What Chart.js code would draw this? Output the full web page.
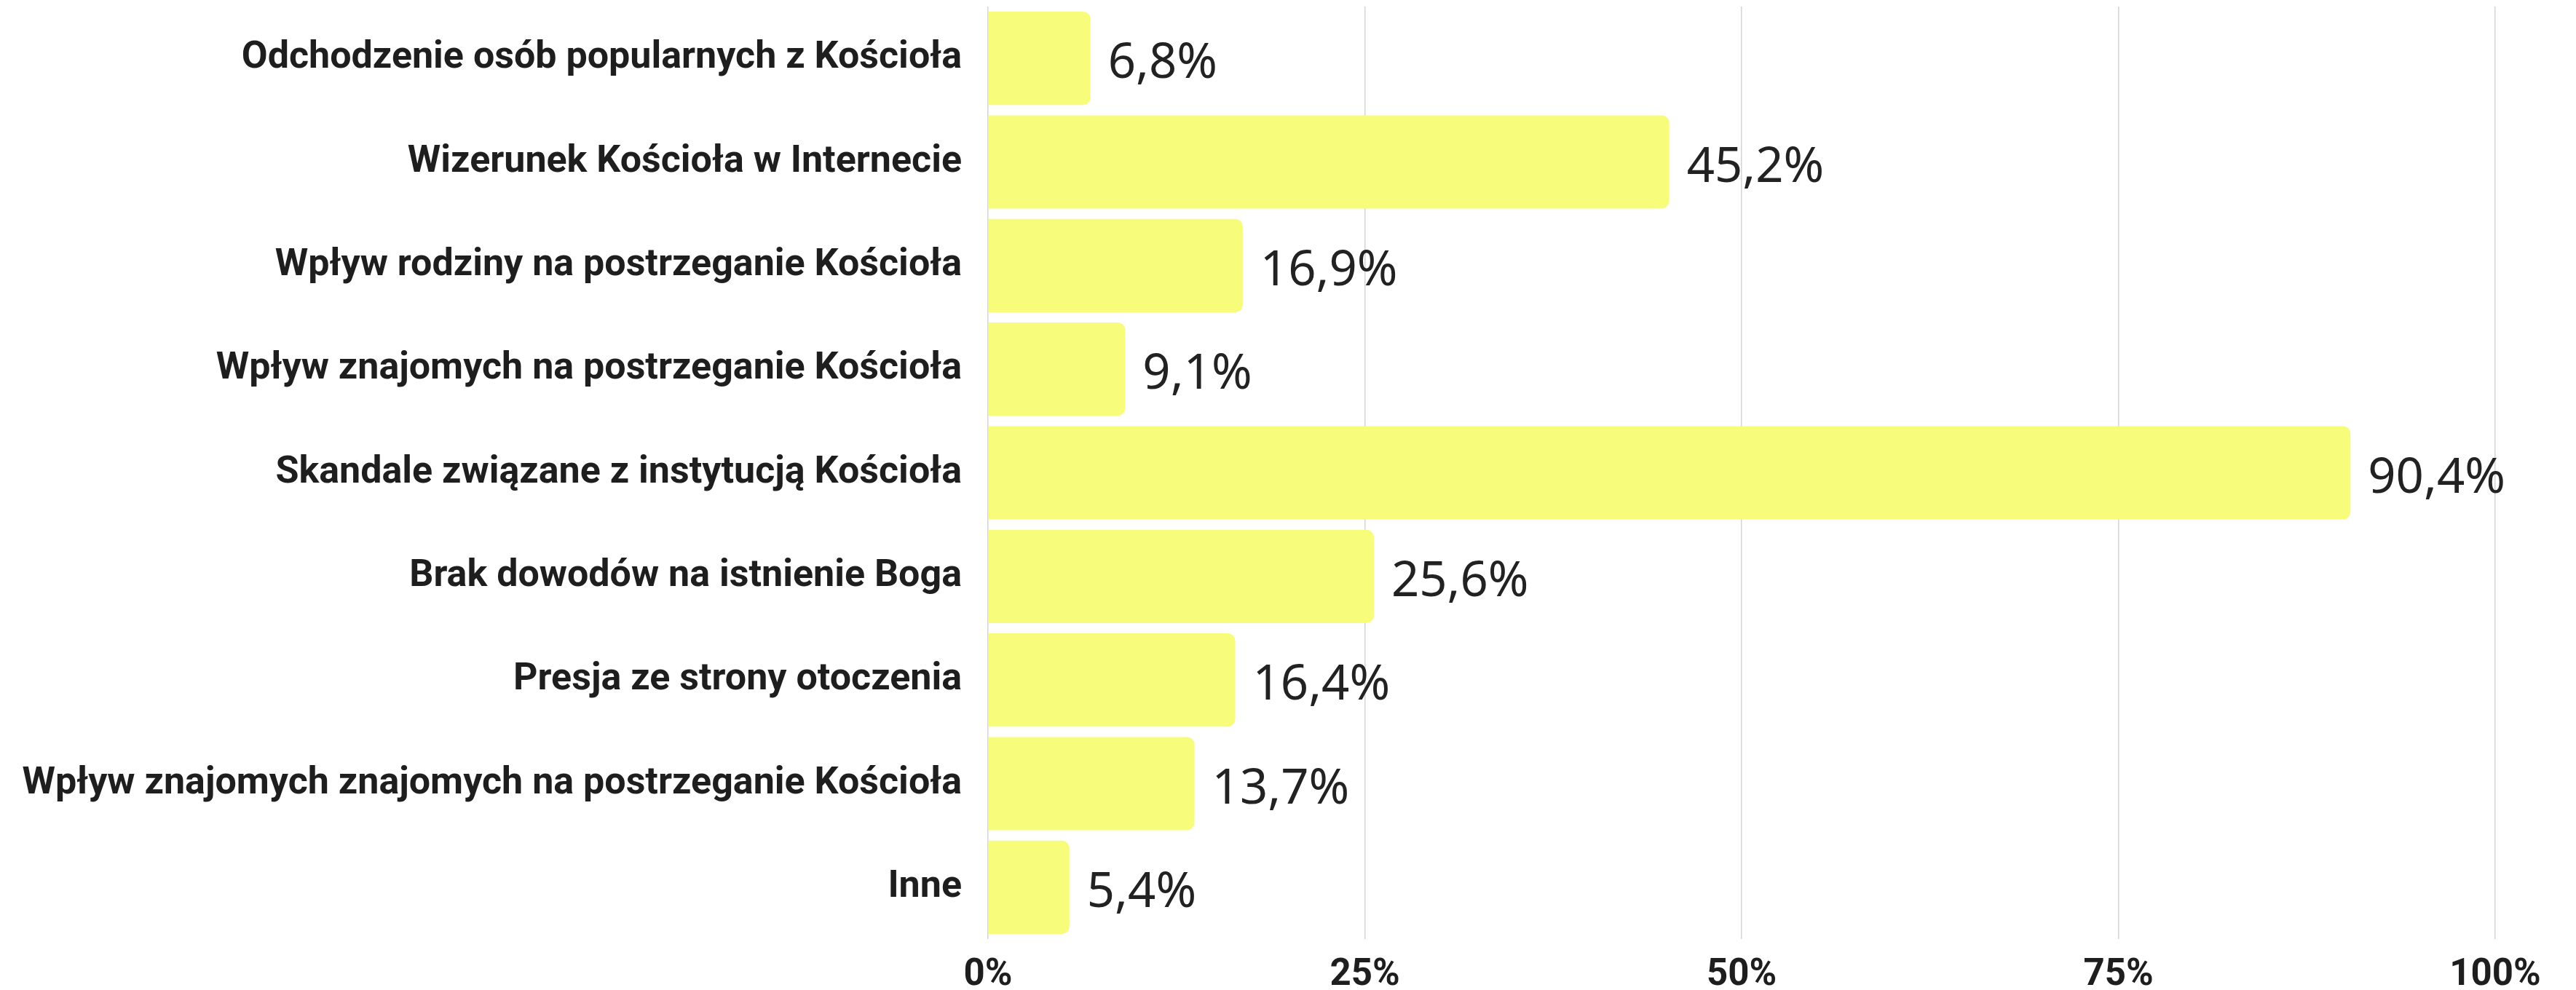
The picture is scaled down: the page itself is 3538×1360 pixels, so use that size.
<!DOCTYPE html>
<html>
<head>
<meta charset="utf-8">
<script src="https://cdn.jsdelivr.net/npm/chart.js@4"></script>
<style>
  html, body { margin: 0; padding: 0; background: #fff; }
  #wrap { width: 3538px; height: 1360px; }
</style>
</head>
<body>
<div id="wrap"><canvas id="chart" width="3538" height="1360"></canvas></div>
<script>
const categories = [
  'Odchodzenie osób popularnych z Kościoła',
  'Wizerunek Kościoła w Internecie',
  'Wpływ rodziny na postrzeganie Kościoła',
  'Wpływ znajomych na postrzeganie Kościoła',
  'Skandale związane z instytucją Kościoła',
  'Brak dowodów na istnienie Boga',
  'Presja ze strony otoczenia',
  'Wpływ znajomych znajomych na postrzeganie Kościoła',
  'Inne'
]
const values = [6.8, 45.2, 16.9, 9.1, 90.4, 25.6, 16.4, 13.7, 5.4]
const xTicks = [0, 25, 50, 75, 100]

const labelFont = "Roboto, 'DejaVu Sans', sans-serif"
const valueFont = "'Noto Sans', 'Open Sans', sans-serif"

// draws "90,4%" style labels next to each bar end
const valueLabels = {
  id: 'valueLabels',
  afterDatasetsDraw(chart) {
    const ctx = chart.ctx
    const meta = chart.getDatasetMeta(0)
    ctx.save()
    ctx.font = '67px ' + valueFont
    ctx.fillStyle = '#222222'
    ctx.textAlign = 'left'
    ctx.textBaseline = 'middle'
    meta.data.forEach((bar, i) => {
      let txt = values[i].toFixed(1).replace('.', ',') + '%'
      ctx.fillText(txt, bar.x + 24, bar.y + 8)
    })
    ctx.restore()
  }
}

function noPad(scale) {
  scale.paddingTop = 0
  scale.paddingBottom = 0
}

new Chart(document.getElementById('chart'), {
  type: 'bar',
  data: {
    labels: categories,
    datasets: [{
      data: values,
      backgroundColor: '#f7fd7a',
      borderWidth: 0,
      borderRadius: 10,
      borderSkipped: 'start',
      categoryPercentage: 0.9,
      barPercentage: 1
    }]
  },
  options: {
    indexAxis: 'y',
    responsive: false,
    animation: false,
    layout: { padding: { top: 9, right: 111, bottom: 0, left: 0 } },
    plugins: {
      legend: { display: false },
      tooltip: { enabled: false }
    },
    scales: {
      x: {
        min: 0,
        max: 100,
        afterBuildTicks(scale) {
          scale.ticks = xTicks.map(v => ({ value: v }))
        },
        afterFit(scale) { scale.height = 70 },
        grid: { color: '#d4d4d4', lineWidth: 1.5, drawTicks: false },
        border: { display: false },
        ticks: {
          padding: 20,
          color: '#1e1e1e',
          font: { family: labelFont, size: 51, weight: 'bold' },
          callback: v => v + '%'
        }
      },
      y: {
        afterFit(scale) {
          scale.width = 1357
          noPad(scale)
        },
        grid: { display: false, drawTicks: false },
        border: { display: false },
        ticks: {
          padding: 36,
          color: '#1e1e1e',
          font: { family: labelFont, size: 52, weight: 'bold' }
        }
      }
    }
  },
  plugins: [valueLabels]
})
</script>
</body>
</html>
